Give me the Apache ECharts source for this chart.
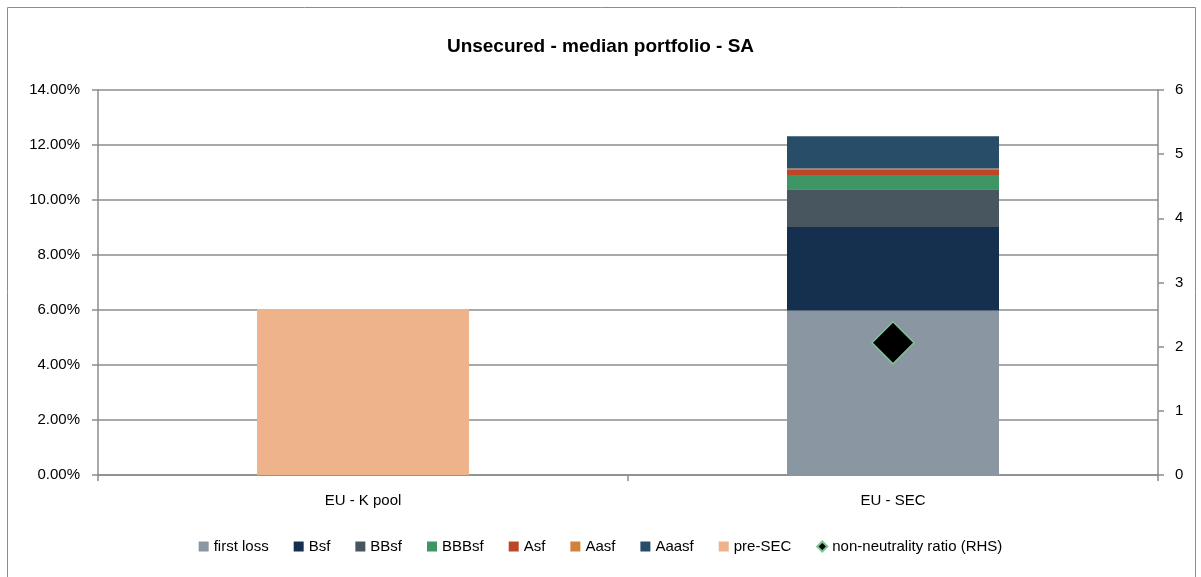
<!DOCTYPE html>
<html>
<head>
<meta charset="utf-8">
<script src="https://cdn.jsdelivr.net/npm/echarts@6/dist/echarts.min.js"></script>
<style>
  html, body { margin: 0; padding: 0; background: #fff; }
  #main { width: 1201px; height: 577px; }
</style>
</head>
<body>
<div id="main"></div>
<script>
// categories and values (left axis in %, right axis ratio)
const categories = ['EU - K pool', 'EU - SEC']
const firstLoss = [null, 5.98]
const bsf = [null, 3.04]
const bbsf = [null, 1.37]
const bbbsf = [null, 0.52]
const asf = [null, 0.21]
const aasf = [null, 0.03]
const aaasf = [null, 1.17]
const preSec = [6.04, null]
const ratio = [null, 2.06]

const chart = echarts.init(document.getElementById('main'))
const font = "'Liberation Sans', 'DejaVu Sans', sans-serif"

function bar(name, data, color) {
  return {
    name: name,
    type: 'bar',
    stack: 'tot',
    barWidth: '40%',
    data: data,
    itemStyle: { color: color },
  }
}

const options = {
  textStyle: { fontFamily: font },
  title: {
    text: 'Unsecured - median portfolio - SA',
    left: 'center',
    top: 32,
    textStyle: { fontSize: 19, fontWeight: 'bold', color: '#000', fontFamily: font },
  },
  graphic: [{
    type: 'rect',
    shape: { x: 7.5, y: 7.5, width: 1188, height: 600 },
    style: { fill: 'none', stroke: '#8c8c8c', lineWidth: 1 },
    silent: true,
  }],
  grid: { left: 98, right: 43, top: 90, bottom: 102 },
  legend: {
    bottom: 18,
    left: 'center',
    itemWidth: 10,
    itemHeight: 10,
    itemGap: 25,
    textStyle: { fontSize: 15, color: '#000', fontFamily: font },
    data: [
      { name: 'first loss', icon: 'rect' },
      { name: 'Bsf', icon: 'rect' },
      { name: 'BBsf', icon: 'rect' },
      { name: 'BBBsf', icon: 'rect' },
      { name: 'Asf', icon: 'rect' },
      { name: 'Aasf', icon: 'rect' },
      { name: 'Aaasf', icon: 'rect' },
      { name: 'pre-SEC', icon: 'rect' },
      { name: 'non-neutrality ratio (RHS)', icon: 'diamond' },
    ],
  },
  xAxis: {
    type: 'category',
    data: categories,
    axisLine: { lineStyle: { color: '#8c8c8c', width: 1.5 } },
    axisTick: { show: true, length: 6, lineStyle: { color: '#8c8c8c', width: 1.5 } },
    axisLabel: { color: '#000', fontSize: 15, margin: 18, fontFamily: font },
  },
  yAxis: [{
    type: 'value',
    min: 0,
    max: 14,
    interval: 2,
    axisLine: { show: true, lineStyle: { color: '#8c8c8c', width: 1.5 } },
    axisTick: { show: true, length: 6, lineStyle: { color: '#8c8c8c', width: 1.5 } },
    axisLabel: { color: '#000', fontSize: 15, margin: 18, fontFamily: font,
      formatter: v => v.toFixed(2) + '%' },
    splitLine: { lineStyle: { color: '#8c8c8c', width: 1.5 } },
  }, {
    type: 'value',
    min: 0,
    max: 6,
    interval: 1,
    position: 'right',
    axisLine: { show: true, lineStyle: { color: '#8c8c8c', width: 1.5 } },
    axisTick: { show: true, length: 6, lineStyle: { color: '#8c8c8c', width: 1.5 } },
    axisLabel: { color: '#000', fontSize: 15, margin: 17, fontFamily: font },
    splitLine: { show: false },
  }],
  series: [
    bar('first loss', firstLoss, '#8a96a1'),
    bar('Bsf', bsf, '#14304e'),
    bar('BBsf', bbsf, '#48575f'),
    bar('BBBsf', bbbsf, '#3f9665'),
    bar('Asf', asf, '#be4628'),
    bar('Aasf', aasf, '#d0823a'),
    bar('Aaasf', aaasf, '#284d69'),
    bar('pre-SEC', preSec, '#efb38c'),
    {
      name: 'non-neutrality ratio (RHS)',
      type: 'scatter',
      yAxisIndex: 1,
      symbol: 'diamond',
      symbolSize: 42,
      data: ratio,
      itemStyle: { color: '#000', opacity: 1, borderColor: '#7fc394', borderWidth: 1.5 },
      z: 5,
    },
  ],
}
chart.setOption(options)
</script>
</body>
</html>
